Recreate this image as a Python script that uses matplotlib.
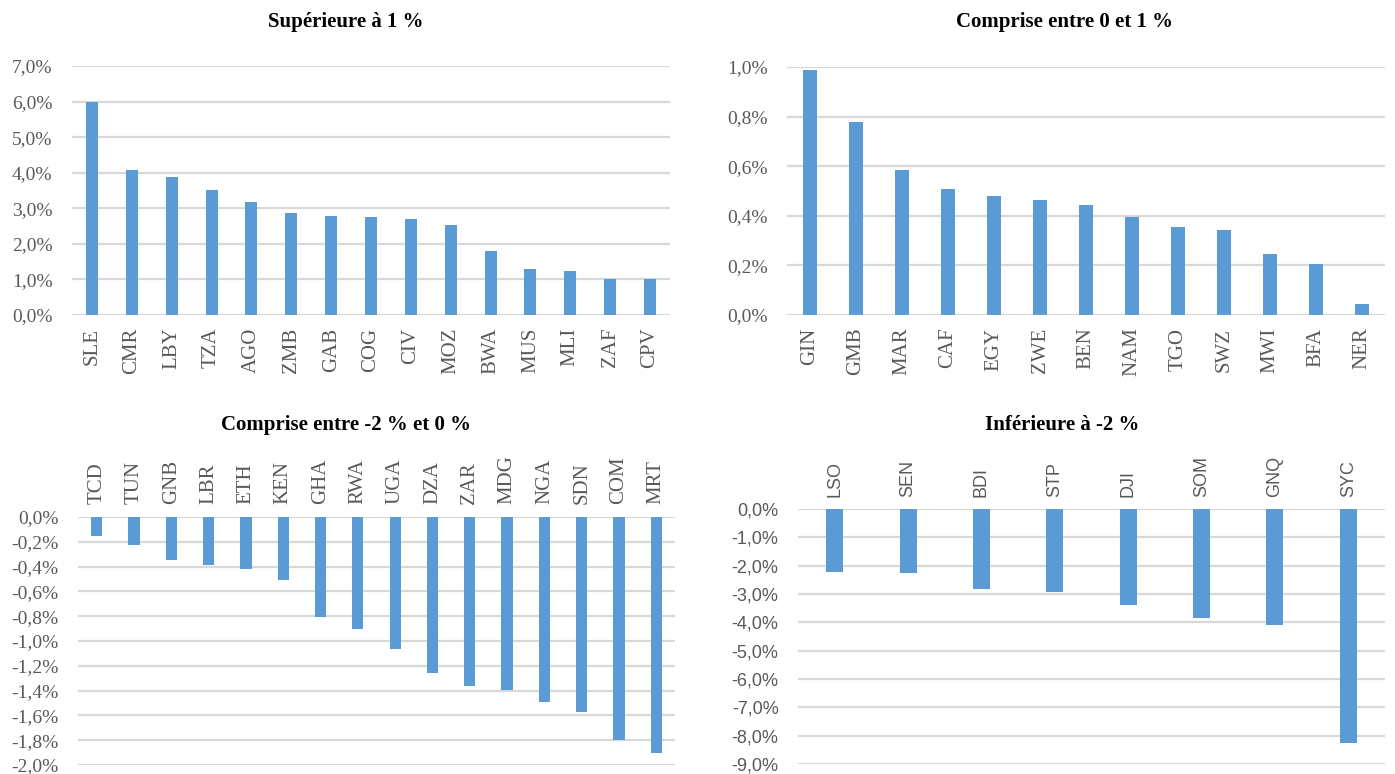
import matplotlib
matplotlib.use("Agg")
import matplotlib.pyplot as plt
from matplotlib.ticker import FuncFormatter, MultipleLocator

# ---- data ----
cat1 = ["SLE", "CMR", "LBY", "TZA", "AGO", "ZMB", "GAB", "COG", "CIV", "MOZ", "BWA", "MUS", "MLI", "ZAF", "CPV"]
val1 = [5.98, 4.08, 3.87, 3.51, 3.17, 2.88, 2.78, 2.75, 2.70, 2.53, 1.81, 1.28, 1.25, 1.01, 1.01]

cat2 = ["GIN", "GMB", "MAR", "CAF", "EGY", "ZWE", "BEN", "NAM", "TGO", "SWZ", "MWI", "BFA", "NER"]
val2 = [0.987, 0.78, 0.584, 0.507, 0.479, 0.463, 0.443, 0.397, 0.355, 0.344, 0.245, 0.207, 0.044]

cat3 = ["TCD", "TUN", "GNB", "LBR", "ETH", "KEN", "GHA", "RWA", "UGA", "DZA", "ZAR", "MDG", "NGA", "SDN", "COM", "MRT"]
val3 = [-0.154, -0.224, -0.345, -0.389, -0.416, -0.51, -0.81, -0.907, -1.066, -1.258, -1.366, -1.393, -1.493, -1.571, -1.80, -1.90]

cat4 = ["LSO", "SEN", "BDI", "STP", "DJI", "SOM", "GNQ", "SYC"]
val4 = [-2.21, -2.27, -2.84, -2.93, -3.39, -3.83, -4.11, -8.27]

titles = ["Supérieure à 1 %", "Comprise entre 0 et 1 %", "Comprise entre -2 % et 0 %", "Inférieure à -2 %"]

BAR = "#5B9BD5"
GRID = "#D9D9D9"
TXT = "#595959"
SERIF = ["Liberation Serif", "DejaVu Serif"]
SANS = ["Liberation Sans", "DejaVu Sans"]

W, H = 1395, 774
fig = plt.figure(figsize=(W / 100, H / 100), dpi=100)


def px_axes(x0, x1, ytop, ybot):
    return fig.add_axes([x0 / W, 1 - ybot / H, (x1 - x0) / W, (ybot - ytop) / H])


def fmt(dec):
    return FuncFormatter(lambda v, p: (f"{v:.{dec}f}%").replace(".", ",").replace("-0,0%", "0,0%"))


def style(ax, cats, vals, width, ylim, step, xtop, yfont, xfont, yfs, xfs):
    x = list(range(len(cats)))
    ax.bar(x, vals, width=width, color=BAR, zorder=3)
    ax.set_xlim(-0.5, len(cats) - 0.5)
    ax.set_ylim(*ylim)
    ax.yaxis.set_major_locator(MultipleLocator(step))
    ax.yaxis.set_major_formatter(fmt(1))
    ax.grid(axis="y", color=GRID, linewidth=1.6, zorder=0)
    for s in ax.spines.values():
        s.set_visible(False)
    ax.tick_params(axis="both", length=0, colors=TXT)
    ax.tick_params(axis="y", pad=14)
    ax.set_xticks(x)
    if xtop:
        ax.xaxis.tick_top()
    ax.set_xticklabels(cats, rotation=90, family=xfont, fontsize=xfs, color=TXT)
    ax.tick_params(axis="x", pad=9)
    for lab in ax.get_yticklabels():
        lab.set_family(yfont)
        lab.set_fontsize(yfs)
        lab.set_color(TXT)


ax1 = px_axes(72, 670, 66, 315)
style(ax1, cat1, val1, 0.3, (0, 7), 1, False, SERIF, SERIF, 14, 15)
ax2 = px_axes(787, 1385, 67, 315)
style(ax2, cat2, val2, 0.32, (0, 1.0), 0.2, False, SERIF, SERIF, 14, 15)
ax3 = px_axes(78, 675, 517, 765)
style(ax3, cat3, val3, 0.3, (-2.0, 0), 0.2, True, SERIF, SERIF, 14, 15)
ax4 = px_axes(798, 1385, 509, 764)
style(ax4, cat4, val4, 0.23, (-9, 0), 1, True, SANS, SANS, 13, 13)

tpos = [(346, 22), (1065, 22), (346, 425), (1062, 425)]
for t, (tx, ty) in zip(titles, tpos):
    fig.text(tx / W, 1 - ty / H, t, ha="center", va="center", family=SERIF,
             fontsize=15, fontweight="bold", color="#000000")

fig.savefig("out.png", dpi=100, facecolor="white")
